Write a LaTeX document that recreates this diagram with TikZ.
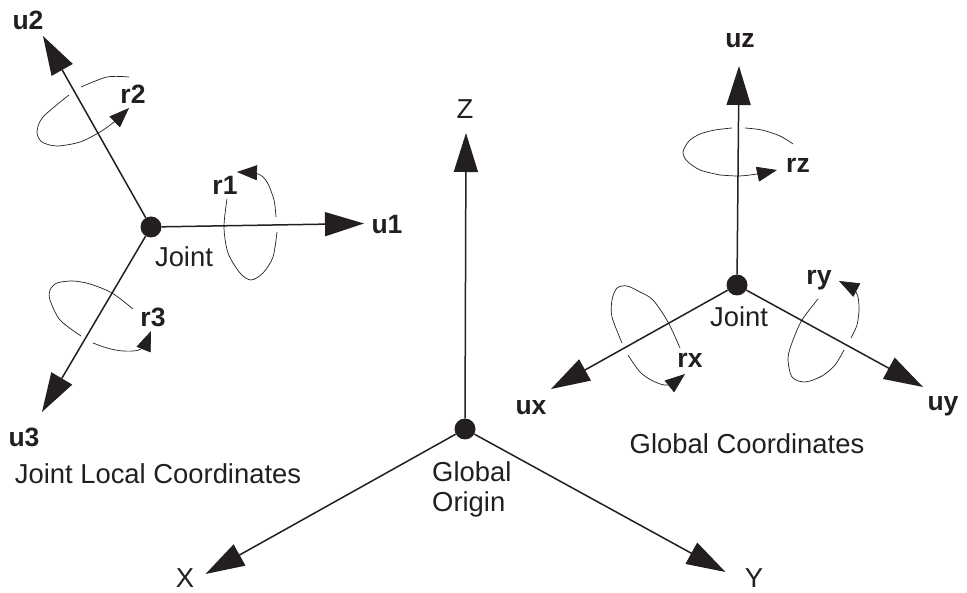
\documentclass[tikz,border=0pt]{standalone}
\usepackage{fontspec}
\setmainfont{Liberation Sans}
\usetikzlibrary{arrows.meta, positioning}
\definecolor{inkblack}{HTML}{231F20}
\tikzset{
	jointdot/.style={circle, fill=inkblack, inner sep=0pt, minimum size=21pt},
	axisline/.style={draw=inkblack, line width=1.5pt, -{Triangle[length=39pt, width=24pt]}},
	rotline/.style={draw=inkblack, line width=0.7pt},
	rotarrow/.style={rotline, -{Triangle[length=20pt, width=15pt]}},
	plainlabel/.style={text=inkblack, inner sep=0pt, font=\fontsize{27.4}{30}\selectfont},
	boldlabel/.style={text=inkblack, inner sep=0pt, font=\fontsize{26.5}{30}\selectfont\bfseries}
}
\begin{document}
\begin{tikzpicture}[x=1pt, y=-1pt]
	\useasboundingbox (0,0) rectangle (967,593);

	\node[jointdot] (localjoint)	at (151, 227) {};
	\node[jointdot] (globaljoint)	at (737, 285) {};
	\node[jointdot] (origin)		at (465, 429) {};

	\coordinate (u1tip) at (364, 223.5);
	\coordinate (u2tip) at (43, 36);
	\coordinate (u3tip) at (42, 412);
	\coordinate (uztip) at (739, 66);
	\coordinate (uxtip) at (551, 389);
	\coordinate (uytip) at (923, 387);
	\coordinate (ztip)  at (466, 133);
	\coordinate (xtip)  at (205.5, 574);
	\coordinate (ytip)  at (725.5, 572);

	\draw[axisline] (localjoint) to (u1tip);
	\draw[axisline] (localjoint) to (u2tip);
	\draw[axisline] (localjoint) to (u3tip);
	\draw[axisline] (globaljoint) to (uztip);
	\draw[axisline] (globaljoint) to (uxtip);
	\draw[axisline] (globaljoint) to (uytip);
	\draw[axisline] (origin) to (ztip);
	\draw[axisline] (origin) to (xtip);
	\draw[axisline] (origin) to (ytip);

	%rotations joint local
	\draw[rotline] plot[smooth] coordinates {(129,77) (107,77) (81,87)};
	\draw[rotarrow] plot[smooth] coordinates {(69,95) (43,117) (37,132) (42,142) (57,146) (80,142) (100,132) (114,122) (129,108)};

	\draw[rotline] plot[smooth] coordinates {(227,199) (224,227) (228,253) (240,273) (251,280) (263,273) (273,257) (277,232)};
	\draw[rotarrow] plot[smooth] coordinates {(276,217) (274,200) (267,182) (258,174) (237,172)};

	\draw[rotline] plot[smooth] coordinates {(133,309) (112,293) (90,284) (73,281) (57,283) (50,290) (50,300) (60,320) (81,336)};
	\draw[rotarrow] plot[smooth] coordinates {(93,343) (107,348) (123,351) (141,349) (151,331)};

	%rotations globales
	\draw[rotline] plot[smooth] coordinates {(732,128) (715,130) (700,134) (689,141) (683,152) (687,161) (700,170) (720,175)};
	\draw[rotline] plot[smooth] coordinates {(745,128) (762,130) (780,136) (793,144)};
	\draw[rotarrow] plot[smooth] coordinates {(720,175) (739,176) (757,174) (777,170)};

	\draw[rotline] plot[smooth] coordinates {(680,348) (668,322) (653,300) (640,292) (627,286) (617,288) (612,300) (612,317) (622,343)};
	\draw[rotarrow] plot[smooth] coordinates {(628,355) (640,372) (653,381) (668,385) (685,374)};

	\draw[rotline] plot[smooth] coordinates {(818,299) (802,320) (793,340) (788,358) (792,377) (805,382) (822,376) (835,365) (844,350)};
	\draw[rotarrow] plot[smooth] coordinates {(851,338) (857,325) (859,308) (856,292) (839,281)};

	\node[boldlabel] (u1)	at (387, 225)	{u1};
	\node[boldlabel] (u2)	at (28, 20)		{u2};
	\node[boldlabel] (u3)	at (24, 437)	{u3};
	\node[boldlabel] (r1)	at (225, 185)	{r1};
	\node[boldlabel] (r2)	at (133, 94)	{r2};
	\node[boldlabel] (r3)	at (153, 317)	{r3};
	\node[boldlabel] (uz)	at (740, 41)	{uz};
	\node[boldlabel] (ux)	at (531, 408)	{ux};
	\node[boldlabel] (uy)	at (943, 406)	{uy};
	\node[boldlabel] (rz)	at (798, 165)	{rz};
	\node[boldlabel] (rx)	at (690, 360)	{rx};
	\node[boldlabel] (ry)	at (819, 280)	{ry};

	\node[plainlabel] (localjointlabel)		at (184, 257)	{Joint};
	\node[plainlabel] (globaljointlabel)	at (739, 317)	{Joint};
	\node[plainlabel] (locallabel)			at (158, 474)	{Joint Local Coordinates};
	\node[plainlabel] (globallabel)			at (747, 444)	{Global Coordinates};
	\node[plainlabel, align=left, anchor=west] (originlabel) at (432, 489) {Global\\Origin};
	\node[plainlabel] (zlabel)	at (465, 109)	{Z};
	\node[plainlabel] (xlabel)	at (185, 578)	{X};
	\node[plainlabel] (ylabel)	at (754, 578)	{Y};
\end{tikzpicture}
\end{document}
